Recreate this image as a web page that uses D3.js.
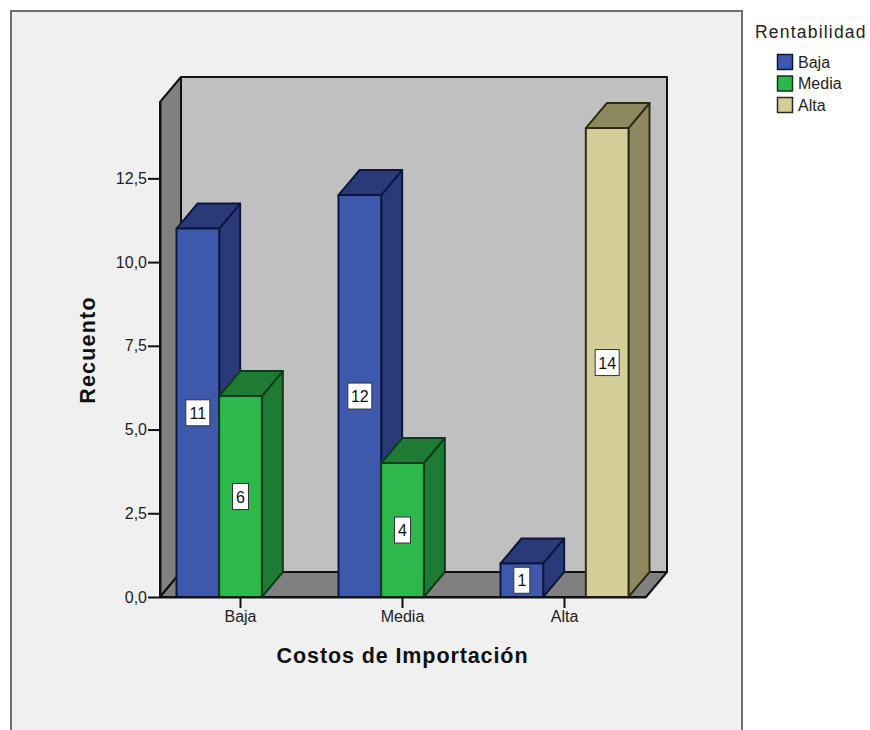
<!DOCTYPE html>
<html><head><meta charset="utf-8">
<script src="https://cdn.jsdelivr.net/npm/d3@7/dist/d3.min.js"></script>
<style>html,body{margin:0;padding:0;background:#fff}svg{display:block}text{font-family:"Liberation Sans",Arial,sans-serif}</style>
</head><body><svg id="c" width="870" height="730"></svg>
<script>
const categories = ["Baja","Media","Alta"];
const seriesNames = ["Baja","Media","Alta"];
const valuesBaja = [11,12,1];
const valuesMedia = [6,4,null];
const valuesAlta = [null,null,14];
const yTicks = [0,2.5,5,7.5,10,12.5];
const frontColors = ["#3e58ac","#2db84b","#d3ce97"];
const sideColors = ["#2a3a78","#1f7a33","#8c8961"];
const edgeColors = ["#0c1740","#0b3d18","#2e2c18"];

const allSeries=[valuesBaja,valuesMedia,valuesAlta];
const svg=d3.select("#c");
const dx=21, dy=-25;
const x=d3.scaleBand().domain(categories).range([159.5,645.5]).paddingInner(34/162).paddingOuter(17/162);
const xs=d3.scaleBand().domain(seriesNames).range([0,x.bandwidth()]);
const y=d3.scaleLinear().domain([0,14.78]).range([597,102]);
const L=160,R=646,B=y(0),T=y(14.78);
const line=d3.line();

// panel
svg.append("rect").attr("x",11).attr("y",11).attr("width",731).attr("height",740).attr("fill","#f0f0f0").attr("stroke","#6e6e6e").attr("stroke-width",2);

// walls
const wallStroke=sel=>sel.attr("stroke","#111").attr("stroke-width",2).attr("stroke-linejoin","round");
wallStroke(svg.append("path").attr("d",line([[L+dx,T+dy],[R+dx,T+dy],[R+dx,B+dy],[L+dx,B+dy]])+"Z").attr("fill","#c0c0c0"));
wallStroke(svg.append("path").attr("d",line([[L,T],[L+dx,T+dy],[L+dx,B+dy],[L,B]])+"Z").attr("fill","#808080"));
wallStroke(svg.append("path").attr("d",line([[L,B],[L+dx,B+dy],[R+dx,B+dy],[R,B]])+"Z").attr("fill","#808080"));

// bars
const labels=[];
categories.forEach((c,ci)=>{
  seriesNames.forEach((s,si)=>{
    const v=allSeries[si][ci];
    if(v==null) return;
    const x0=x(c)+xs(s), w=xs.bandwidth(), x1=x0+w, yt=y(v);
    const g=svg.append("g").attr("class","bar");
    const st=(sel,f)=>sel.attr("fill",f).attr("stroke",edgeColors[si]).attr("stroke-width",2).attr("stroke-linejoin","round");
    st(g.append("path").attr("d",line([[x1,yt],[x1+dx,yt+dy],[x1+dx,B+dy],[x1,B]])+"Z"),sideColors[si]);
    st(g.append("path").attr("d",line([[x0,yt],[x0+dx,yt+dy],[x1+dx,yt+dy],[x1,yt]])+"Z"),sideColors[si]);
    st(g.append("rect").attr("x",x0).attr("y",yt).attr("width",w).attr("height",B-yt),frontColors[si]);
    labels.push({v,cx:x0+w/2,cy:(yt+B)/2});
  });
});
labels.forEach(d=>{
  const w=String(d.v).length>1?24:16,h=26;
  svg.append("rect").attr("x",d.cx-w/2).attr("y",d.cy-h/2).attr("width",w).attr("height",h).attr("fill","#fff").attr("stroke","#333").attr("stroke-width",1);
  svg.append("text").attr("x",d.cx).attr("y",d.cy+6).attr("text-anchor","middle").attr("font-size",16).attr("fill","#111").text(d.v);
});

// axes
const yAxis=d3.axisLeft(y).tickValues(yTicks).tickSize(12).tickSizeOuter(0).tickFormat(d=>d3.format(".1f")(d).replace(".",","));
const gy=svg.append("g").attr("transform",`translate(${L},0)`).call(yAxis);
const xAxis=d3.axisBottom(x).tickSize(11).tickSizeOuter(0);
const gx=svg.append("g").attr("transform",`translate(0,${B})`).call(xAxis);
[gy,gx].forEach(g=>{
  g.selectAll("text").attr("font-size",16).attr("fill","#222").style("font-family",'"Liberation Sans",Arial,sans-serif');
  g.selectAll("line").attr("stroke","#111").attr("stroke-width",2);
  g.select(".domain").attr("stroke","#111").attr("stroke-width",2);
});
gy.selectAll("text").attr("x",-13);
gx.selectAll("text").attr("y",14);

// titles
svg.append("text").attr("x",402.5).attr("y",663).attr("text-anchor","middle").attr("font-size",21.5).attr("font-weight","bold").attr("letter-spacing",0.9).attr("fill","#111").text("Costos de Importación");
svg.append("text").attr("transform","translate(95,350) rotate(-90)").attr("text-anchor","middle").attr("font-size",21.5).attr("font-weight","bold").attr("letter-spacing",1.2).attr("fill","#111").text("Recuento");

// legend
svg.append("text").attr("x",755).attr("y",38).attr("font-size",17.5).attr("letter-spacing",1.2).attr("fill","#222").text("Rentabilidad");
const legY=d3.scalePoint().domain(seriesNames).range([62,105]);
seriesNames.forEach((s,i)=>{
  svg.append("rect").attr("x",777.5).attr("y",legY(s)-7.5).attr("width",15).attr("height",15).attr("fill",frontColors[i]).attr("stroke",edgeColors[i]).attr("stroke-width",1.5);
  svg.append("text").attr("x",798).attr("y",legY(s)+5.5).attr("font-size",16).attr("fill","#222").text(s);
});
</script></body></html>
